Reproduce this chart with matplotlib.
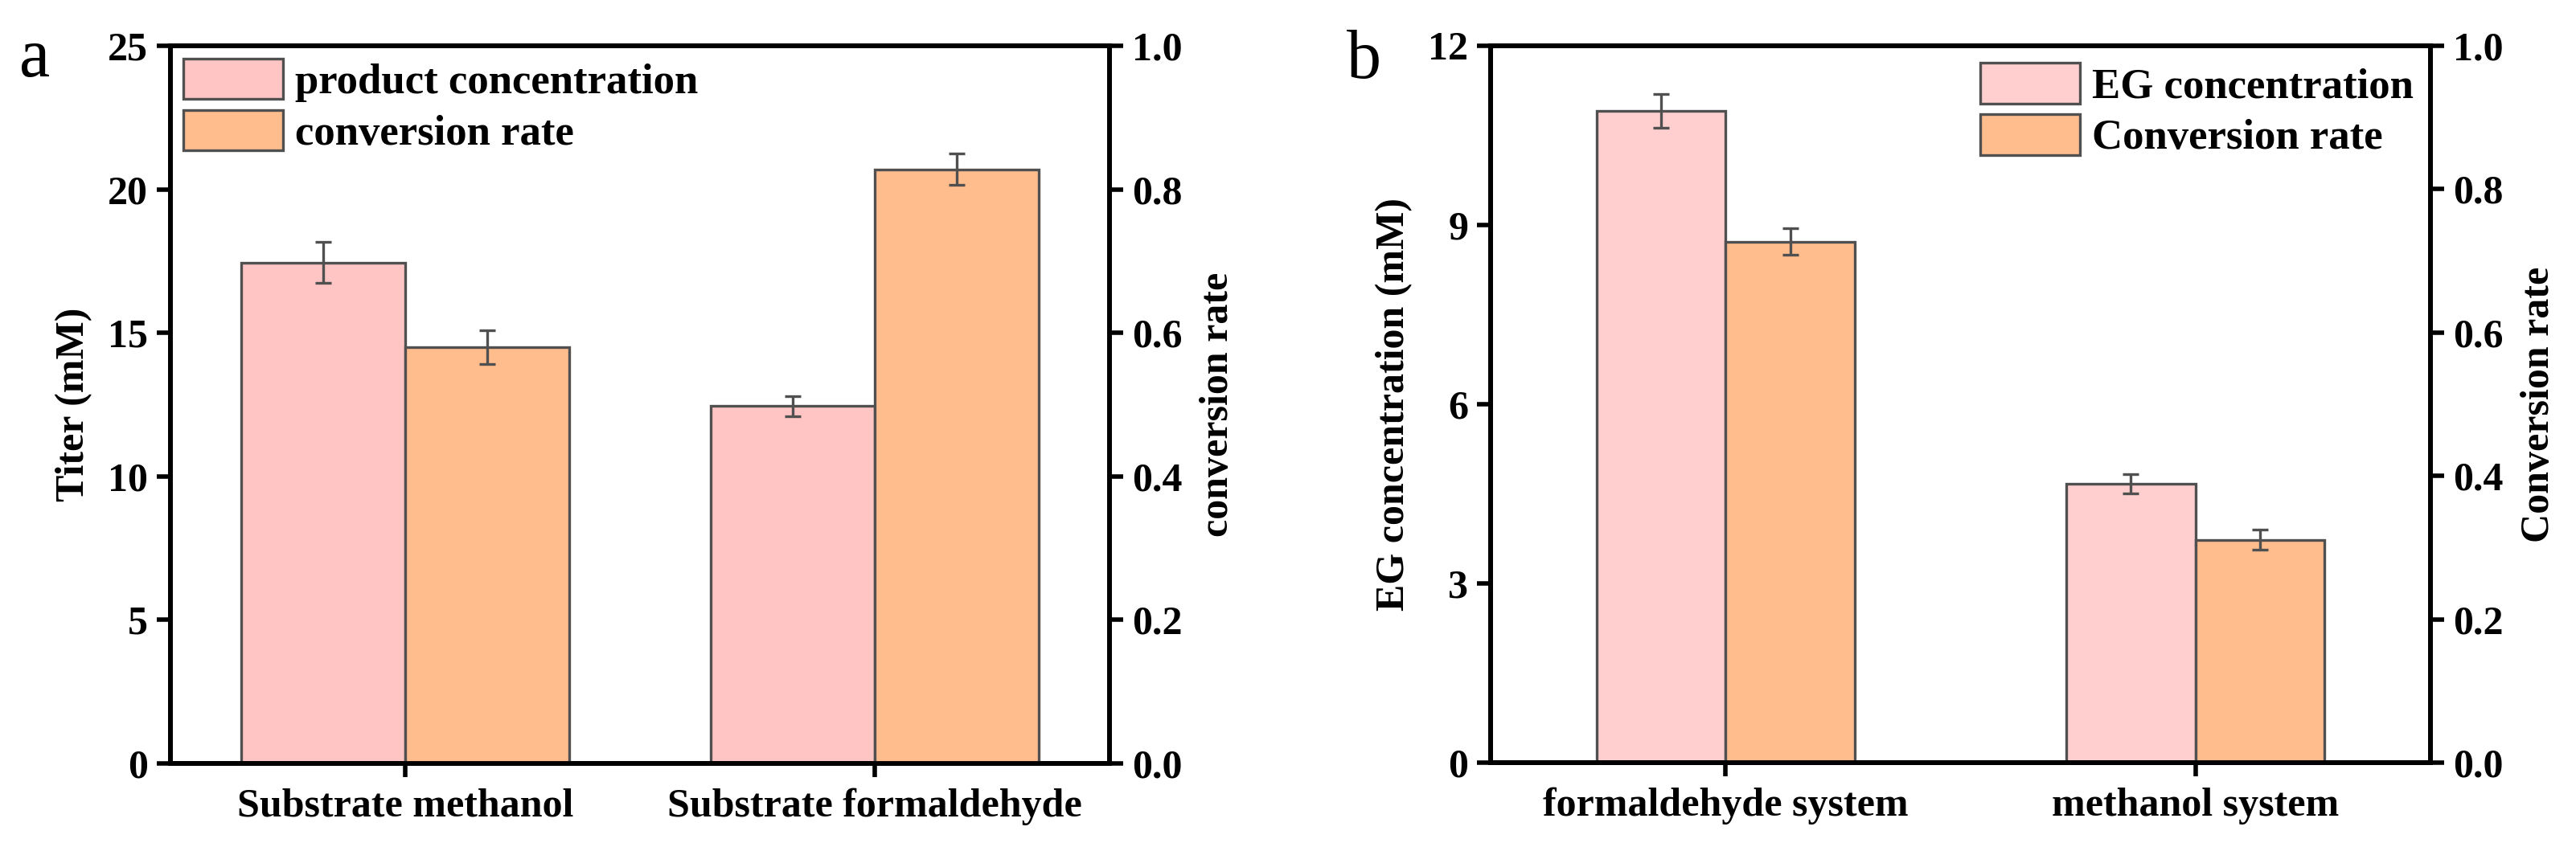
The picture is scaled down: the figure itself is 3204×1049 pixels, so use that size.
import matplotlib
matplotlib.use("Agg")
import matplotlib.pyplot as plt
from matplotlib.ticker import FormatStrFormatter

# panel a
cats_a = ["Substrate methanol", "Substrate formaldehyde"]
titer_a = [17.45, 12.45]
titer_err_a = [0.72, 0.35]
rate_a = [0.58, 0.828]
rate_err_a = [0.024, 0.022]
leg_a = ["product concentration", "conversion rate"]

# panel b
cats_b = ["formaldehyde system", "methanol system"]
eg_b = [10.91, 4.67]
eg_err_b = [0.28, 0.16]
rate_b = [0.727, 0.311]
rate_err_b = [0.018, 0.014]
leg_b = ["EG concentration", "Conversion rate"]

plt.rcParams["font.family"] = ["Liberation Serif", "DejaVu Serif"]
plt.rcParams["font.weight"] = "bold"
plt.rcParams["axes.labelweight"] = "bold"

W, H = 3205, 1049
fig = plt.figure(figsize=(W / 200, H / 200), dpi=200)

EDGE = "#505050"
ORANGE = "#FFBD8E"


def panel(rect, cats, left, left_err, right, right_err, labels, pink, width,
          ylim, ystep, yfmt, ylabel, rlabel, leg_loc, leg_pad):
    ax = fig.add_axes(rect)
    ax2 = ax.twinx()
    x = range(len(cats))
    xl = [i - width / 2 for i in x]
    xr = [i + width / 2 for i in x]
    kw = dict(edgecolor=EDGE, linewidth=1.2, capsize=3.6,
              error_kw=dict(ecolor=EDGE, elinewidth=1.2, capthick=1.2))
    b1 = ax.bar(xl, left, width, yerr=left_err, color=pink, **kw)
    b2 = ax2.bar(xr, right, width, yerr=right_err, color=ORANGE, **kw)
    ax.set_xlim(-0.5, 1.5)
    ax.set_ylim(*ylim)
    ax.set_yticks([ylim[0] + ystep * k for k in range(int(ylim[1] / ystep) + 1)])
    ax.yaxis.set_major_formatter(FormatStrFormatter(yfmt))
    ax2.set_ylim(0, 1.0)
    ax2.set_yticks([0, 0.2, 0.4, 0.6, 0.8, 1.0])
    ax2.yaxis.set_major_formatter(FormatStrFormatter("%.1f"))
    ax.set_xticks(list(x))
    ax.set_xticklabels(cats, fontsize=19)
    for a in (ax, ax2):
        for s in a.spines.values():
            s.set_linewidth(2.1)
        a.tick_params(direction="out", length=6, width=2, labelsize=18, pad=4)
    ax.tick_params(axis="x", pad=5)
    ax.set_ylabel(ylabel, fontsize=18, labelpad=7)
    ax2.set_ylabel(rlabel, fontsize=18, labelpad=8)
    ax2.legend([b1, b2], labels, loc=leg_loc, frameon=False, fontsize=19,
               handlelength=2.35, handleheight=1.1, labelspacing=0.18,
               handletextpad=0.28, borderaxespad=leg_pad, borderpad=0)
    return ax


ax_a = panel([212 / W, 99 / H, 1168 / W, 893 / H], cats_a, titer_a, titer_err_a,
             rate_a, rate_err_a, leg_a, "#FFC4C4", 0.35, (0, 25), 5, "%d",
             "Titer (mM)", "conversion rate", "upper left", 0.3)
ax_b = panel([1854 / W, 100 / H, 1169 / W, 892 / H], cats_b, eg_b, eg_err_b,
             rate_b, rate_err_b, leg_b, "#FFCFCF", 0.275, (0, 12), 3, "%d",
             "EG concentration (mM)", "Conversion rate", "upper right", 0.4)

fig.text(43 / W, 1 - 95 / H, "a", fontsize=31, fontweight="normal",
         ha="center", va="baseline")
fig.text(1697 / W, 1 - 97 / H, "b", fontsize=31, fontweight="normal",
         ha="center", va="baseline")

fig.savefig("out.png", dpi=200, facecolor="white")
